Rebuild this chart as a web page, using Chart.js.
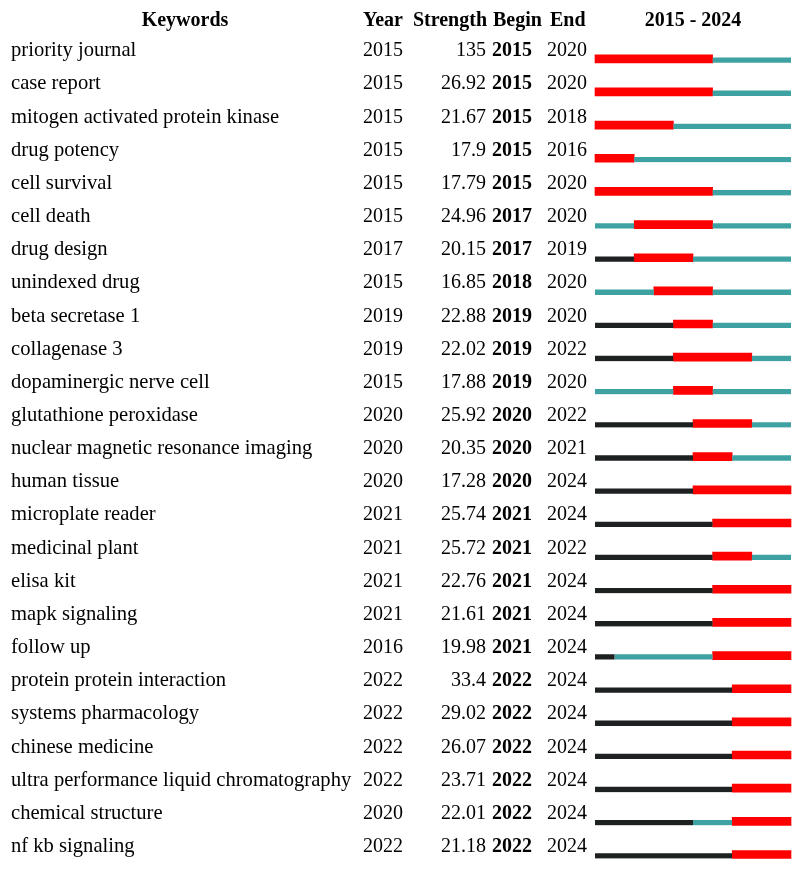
<!DOCTYPE html>
<html>
<head>
<meta charset="utf-8">
<script src="https://cdn.jsdelivr.net/npm/chart.js@4.4.1/dist/chart.umd.min.js"></script>
<style>
  body { margin: 0; background: #fff; }
</style>
</head>
<body>
<canvas id="chart" width="800" height="871"></canvas>
<script>
const keywords = [
  "priority journal", "case report", "mitogen activated protein kinase", "drug potency",
  "cell survival", "cell death", "drug design", "unindexed drug", "beta secretase 1",
  "collagenase 3", "dopaminergic nerve cell", "glutathione peroxidase",
  "nuclear magnetic resonance imaging", "human tissue", "microplate reader",
  "medicinal plant", "elisa kit", "mapk signaling", "follow up",
  "protein protein interaction", "systems pharmacology", "chinese medicine",
  "ultra performance liquid chromatography", "chemical structure", "nf kb signaling"
];
const years = [2015, 2015, 2015, 2015, 2015, 2015, 2017, 2015, 2019, 2019, 2015, 2020, 2020,
  2020, 2021, 2021, 2021, 2021, 2016, 2022, 2022, 2022, 2022, 2020, 2022];
const strengths = ["135", "26.92", "21.67", "17.9", "17.79", "24.96", "20.15", "16.85", "22.88",
  "22.02", "17.88", "25.92", "20.35", "17.28", "25.74", "25.72", "22.76", "21.61", "19.98",
  "33.4", "29.02", "26.07", "23.71", "22.01", "21.18"];
const begins = [2015, 2015, 2015, 2015, 2015, 2017, 2017, 2018, 2019, 2019, 2019, 2020, 2020,
  2020, 2021, 2021, 2021, 2021, 2021, 2022, 2022, 2022, 2022, 2022, 2022];
const ends = [2020, 2020, 2018, 2016, 2020, 2020, 2019, 2020, 2020, 2022, 2020, 2022, 2021,
  2024, 2024, 2022, 2024, 2024, 2024, 2024, 2024, 2024, 2024, 2024, 2024];
const firstYear = 2015;
const lastYear = 2024;

const RED = "#ff0000";
const TEAL = "#3fa2a2";
const BLACK = "#1d2121";
const FONT = "'Liberation Serif', 'Times New Roman', serif";

// segments: not yet appeared (black), present (teal), burst (red)
const beforeSeg = years.map(y => y > firstYear ? [firstYear, y] : null);
const quietSeg = years.map((y, i) => begins[i] > y ? [y, begins[i]] : null);
const burstSeg = begins.map((b, i) => [b, ends[i] + 1]);
const afterSeg = ends.map(e => e < lastYear ? [e + 1, lastYear + 1] : null);

// thin line: 8px slot with the top 3px left transparent, so it shares the red bar's bottom
const thin = color => ({
  backgroundColor: color,
  borderColor: "rgba(0,0,0,0)",
  borderWidth: {top: 3, bottom: 0, left: 0, right: 0},
  barThickness: 8,
  clip: false
});

const tablePlugin = {
  id: "table",
  afterDraw(chart) {
    const ctx = chart.ctx;
    const y = chart.scales.y;
    const area = chart.chartArea;
    ctx.save();
    ctx.fillStyle = "#000";
    ctx.textBaseline = "alphabetic";

    // header
    ctx.font = "bold 20px " + FONT;
    ctx.textAlign = "center";
    ctx.fillText("Keywords", 185, 26);
    ctx.fillText(firstYear + " - " + lastYear, (area.left + area.right) / 2, 26);
    ctx.textAlign = "left";
    ctx.fillText("Year", 363, 26);
    ctx.fillText("Begin", 493, 26);
    ctx.fillText("End", 550, 26);
    ctx.textAlign = "right";
    ctx.fillText("Strength", 487, 26);

    keywords.forEach((k, i) => {
      const base = y.getPixelForValue(i) - 2.5;
      ctx.font = "20.6px " + FONT;
      ctx.textAlign = "left";
      ctx.fillText(k, 11, base);
      ctx.font = "20px " + FONT;
      ctx.fillText(String(years[i]), 363, base);
      ctx.fillText(String(ends[i]), 547, base);
      ctx.textAlign = "right";
      ctx.fillText(strengths[i], 486, base);
      ctx.font = "bold 20px " + FONT;
      ctx.textAlign = "left";
      ctx.fillText(String(begins[i]), 492, base);
    });
    ctx.restore();
  }
};

new Chart(document.getElementById("chart"), {
  type: "bar",
  data: {
    labels: keywords,
    datasets: [
      {label: "before", data: beforeSeg, ...thin(BLACK)},
      {label: "quiet", data: quietSeg, ...thin(TEAL)},
      {label: "after", data: afterSeg, ...thin(TEAL)},
      {label: "burst", data: burstSeg, backgroundColor: RED, barThickness: 8, borderWidth: 0, clip: false}
    ]
  },
  options: {
    indexAxis: "y",
    responsive: false,
    animation: false,
    grouped: false,
    layout: {padding: {left: 595, right: 9, top: 58.8, bottom: 16.5}},
    plugins: {legend: {display: false}, tooltip: {enabled: false}},
    scales: {
      x: {type: "linear", min: firstYear, max: lastYear + 1, display: false},
      y: {type: "category", offset: false, display: false}
    }
  },
  plugins: [tablePlugin]
});
</script>
</body>
</html>
